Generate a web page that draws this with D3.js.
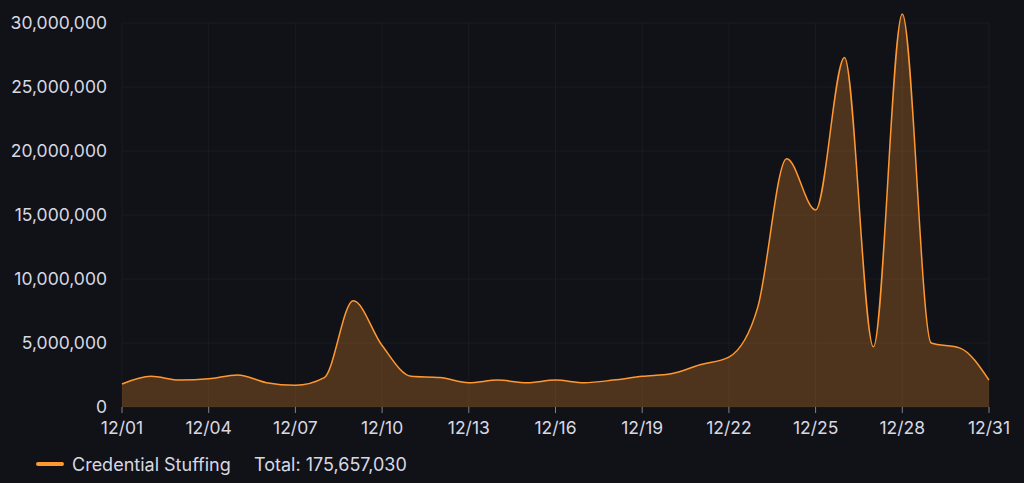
<!DOCTYPE html>
<html><head><meta charset="utf-8">
<script src="https://cdn.jsdelivr.net/npm/d3@7"></script>
<style>body{margin:0;background:#111217;}svg{display:block;font-family:Inter,"Noto Sans",sans-serif;}</style>
</head><body><svg id="c" width="1024" height="483"></svg>
<script>
const days = d3.range(1,32);
const values = [1.8,2.4,2.1,2.2,2.5,1.9,1.7,2.3,8.3,4.8,2.4,2.3,1.9,2.1,1.9,2.1,1.9,2.1,2.4,2.6,3.3,3.9,7.8,19.4,15.4,27.3,4.7,30.7,5.0,4.6,2.1].map(v=>v*1e6);
const yTicks = [0,5e6,10e6,15e6,20e6,25e6,30e6];
const xTickDays = [1,4,7,10,13,16,19,22,25,28,31];
const seriesName = "Credential Stuffing";
const totalLabel = "Total: 175,657,030";

const svg = d3.select("#c");
const x = d3.scaleLinear().domain([1,31]).range([122,989]);
const y = d3.scaleLinear().domain([0,30e6]).range([407,23]);
const fmt = d3.format(",");
const txt = "#d8d8e4";

svg.append("g").selectAll("line").data(yTicks).join("line")
  .attr("x1",122).attr("x2",989).attr("y1",d=>y(d)).attr("y2",d=>y(d))
  .attr("stroke","#ccccdc").attr("stroke-opacity",0.05);
svg.append("g").selectAll("line").data(xTickDays).join("line")
  .attr("y1",23).attr("y2",407).attr("x1",d=>x(d)).attr("x2",d=>x(d))
  .attr("stroke","#ccccdc").attr("stroke-opacity",0.05);
svg.append("g").selectAll("line").data(xTickDays).join("line")
  .attr("y1",407).attr("y2",413).attr("x1",d=>x(d)).attr("x2",d=>x(d))
  .attr("stroke","#ccccdc").attr("stroke-opacity",0.6);

svg.append("g").selectAll("text").data(yTicks).join("text")
  .attr("x",107).attr("y",d=>y(d)).attr("dy","0.35em").attr("text-anchor","end")
  .attr("fill",txt).attr("font-size",17.5).text(d=>fmt(d));
svg.append("g").selectAll("text").data(xTickDays).join("text")
  .attr("x",d=>x(d)).attr("y",434).attr("text-anchor","middle")
  .attr("fill",txt).attr("font-size",17.5).text(d=>"12/"+String(d).padStart(2,"0"));

const area = d3.area().x((d,i)=>x(days[i])).y0(y(0)).y1(d=>y(d)).curve(d3.curveMonotoneX);
const line = d3.line().x((d,i)=>x(days[i])).y(d=>y(d)).curve(d3.curveMonotoneX);
svg.append("path").attr("d",area(values)).attr("fill","#FF9830").attr("fill-opacity",0.26);
svg.append("path").attr("d",line(values)).attr("fill","none").attr("stroke","#FF9830").attr("stroke-width",1.5);

svg.append("rect").attr("x",36).attr("y",462).attr("width",28).attr("height",4).attr("rx",2).attr("fill","#FF9830");
svg.append("text").attr("x",72).attr("y",471).attr("fill",txt).attr("font-size",18).text(seriesName);
svg.append("text").attr("x",254).attr("y",471).attr("fill",txt).attr("font-size",18).text(totalLabel);
</script></body></html>
